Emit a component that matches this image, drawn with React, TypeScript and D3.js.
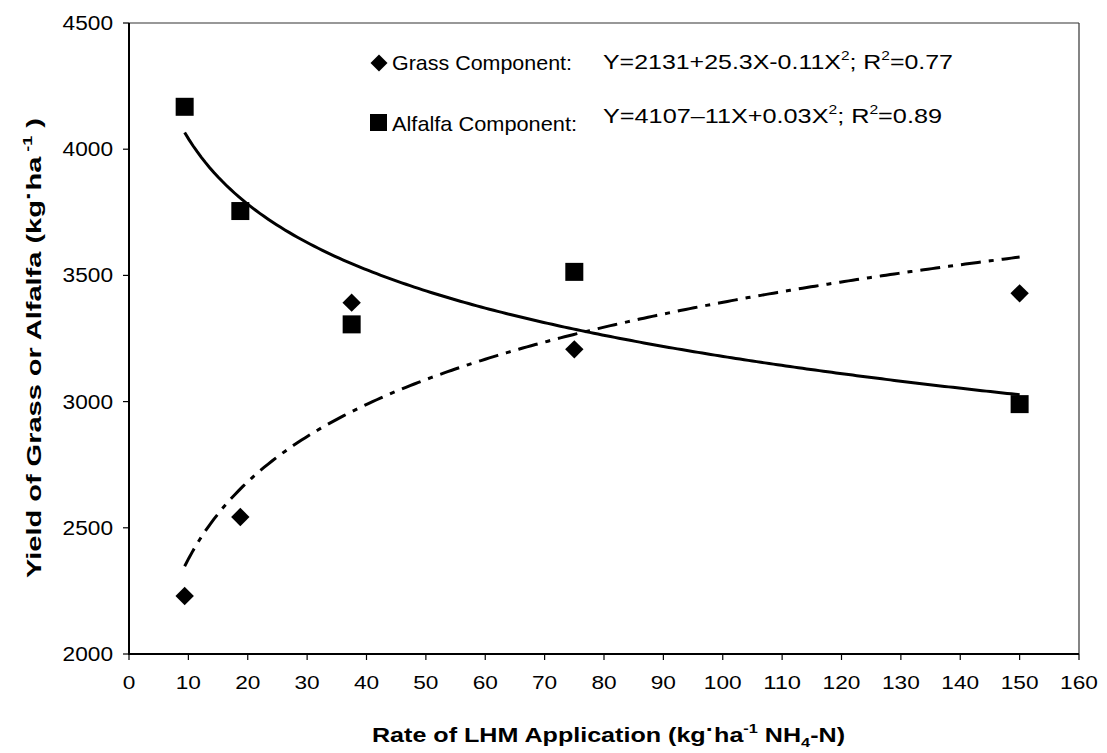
import React from "react";
import * as d3 from "d3";

const rates = [9.375, 18.75, 37.5, 75, 150];
const grassYield = [2230, 2543, 3392, 3207, 3429];
const alfalfaYield = [4168, 3755, 3306, 3514, 2990];
const xTicks = [0, 10, 20, 30, 40, 50, 60, 70, 80, 90, 100, 110, 120, 130, 140, 150, 160];
const yTicks = [2000, 2500, 3000, 3500, 4000, 4500];
const grassLabel = "Grass Component:";
const alfalfaLabel = "Alfalfa Component:";

const W = 1107;
const H = 753;
const L = 129, R = 1079, T = 23, B = 654;
const FONT = "'Liberation Sans', Arial, sans-serif";

function logFit(xs: number[], ys: number[]) {
  const lx = xs.map((v) => Math.log(v));
  const mx = d3.mean(lx)!;
  const my = d3.mean(ys)!;
  let sxy = 0, sxx = 0;
  lx.forEach((v, i) => {
    sxy += (v - mx) * (ys[i] - my);
    sxx += (v - mx) * (v - mx);
  });
  const b = sxy / sxx;
  const a = my - b * mx;
  return (x: number) => a + b * Math.log(x);
}

export default function App() {
  const x = d3.scaleLinear().domain([0, 160]).range([L, R]);
  const y = d3.scaleLinear().domain([2000, 4500]).range([B, T]);

  const x0 = d3.min(rates)!;
  const x1 = d3.max(rates)!;
  const samples = d3.range(0, 201).map((i) => x0 + ((x1 - x0) * i) / 200);
  const gFit = logFit(rates, grassYield);
  const aFit = logFit(rates, alfalfaYield);
  const line = d3
    .line<number[]>()
    .x((d) => x(d[0]))
    .y((d) => y(d[1]));
  const gPath = line(samples.map((s) => [s, gFit(s)])) || "";
  const aPath = line(samples.map((s) => [s, aFit(s)])) || "";

  const sq = 18;
  const dia = 13;
  const digitW = 12.6;

  return (
    <div style={{ position: "absolute", left: 0, top: 0 }}>
      <svg width={W} height={H} style={{ display: "block", background: "#fff" }} fontFamily={FONT}>
        {/* frame */}
        <line x1={L} x2={R} y1={T} y2={T} stroke="#333" strokeWidth={1.2} />
        <line x1={R} x2={R} y1={T} y2={B} stroke="#333" strokeWidth={1.2} />
        <line x1={L} x2={L} y1={T} y2={B + 1} stroke="#000" strokeWidth={2} />
        <line x1={L - 1} x2={R} y1={B} y2={B} stroke="#000" strokeWidth={2} />
        {/* y ticks */}
        {yTicks.map((t) => (
          <g key={"y" + t}>
            <line x1={L - 6} x2={L} y1={y(t)} y2={y(t)} stroke="#000" strokeWidth={1.2} />
            <text
              x={113}
              y={y(t) + 7}
              textAnchor="end"
              fontSize={20}
              fill="#000"
              textLength={String(t).length * digitW}
              lengthAdjust="spacingAndGlyphs"
            >
              {t}
            </text>
          </g>
        ))}
        {/* x ticks */}
        {xTicks.map((t) => (
          <g key={"x" + t}>
            <line x1={x(t)} x2={x(t)} y1={B} y2={B + 6} stroke="#000" strokeWidth={1.2} />
            <text
              x={x(t)}
              y={689}
              textAnchor="middle"
              fontSize={19}
              fill="#000"
              textLength={String(t).length * digitW}
              lengthAdjust="spacingAndGlyphs"
            >
              {t}
            </text>
          </g>
        ))}
        {/* trend lines */}
        <path d={aPath} fill="none" stroke="#000" strokeWidth={3} />
        <path d={gPath} fill="none" stroke="#000" strokeWidth={3} strokeDasharray="20,8,5,8" />
        {/* points */}
        {rates.map((r, i) => (
          <rect
            key={"a" + i}
            x={x(r) - sq / 2}
            y={y(alfalfaYield[i]) - sq / 2}
            width={sq}
            height={sq}
            fill="#000"
          />
        ))}
        {rates.map((r, i) => (
          <rect
            key={"g" + i}
            x={-dia / 2}
            y={-dia / 2}
            width={dia}
            height={dia}
            fill="#000"
            transform={`translate(${x(r)},${y(grassYield[i])}) rotate(45)`}
          />
        ))}
        {/* legend */}
        <rect x={-6} y={-6} width={12} height={12} fill="#000" transform="translate(379,63) rotate(45)" />
        <text x={392} y={70} fontSize={21} fill="#000" textLength={180} lengthAdjust="spacingAndGlyphs">
          {grassLabel}
        </text>
        <text x={603} y={69} fontSize={21} fill="#000" textLength={350} lengthAdjust="spacingAndGlyphs">
          Y=2131+25.3X-0.11X
          <tspan fontSize={13} dy={-9}>2</tspan>
          <tspan dy={9}>; R</tspan>
          <tspan fontSize={13} dy={-9}>2</tspan>
          <tspan dy={9}>=0.77</tspan>
        </text>
        <rect x={370} y={114} width={17} height={17} fill="#000" />
        <text x={392} y={131} fontSize={21} fill="#000" textLength={185} lengthAdjust="spacingAndGlyphs">
          {alfalfaLabel}
        </text>
        <text x={603} y={123} fontSize={21} fill="#000" textLength={339} lengthAdjust="spacingAndGlyphs">
          Y=4107–11X+0.03X
          <tspan fontSize={13} dy={-9}>2</tspan>
          <tspan dy={9}>; R</tspan>
          <tspan fontSize={13} dy={-9}>2</tspan>
          <tspan dy={9}>=0.89</tspan>
        </text>
        {/* axis titles */}
        <text
          x={372}
          y={742}
          fontSize={20}
          fontWeight="bold"
          fill="#000"
          textLength={473}
          lengthAdjust="spacingAndGlyphs"
        >
          Rate of LHM Application (kg
          <tspan dy={-6}>·</tspan>
          <tspan dy={6}>ha</tspan>
          <tspan fontSize={13} dy={-9}>-1</tspan>
          <tspan dy={9}> NH</tspan>
          <tspan fontSize={13} dy={5}>4</tspan>
          <tspan dy={-5}>-N)</tspan>
        </text>
        <text
          transform="translate(41,578) rotate(-90)"
          fontSize={21}
          fontWeight="bold"
          fill="#000"
          textLength={460}
          lengthAdjust="spacingAndGlyphs"
        >
          Yield of Grass or Alfalfa (kg
          <tspan dy={-6}>·</tspan>
          <tspan dy={6}>ha</tspan>
          <tspan fontSize={13} dy={-9}> -1</tspan>
          <tspan dy={9}> )</tspan>
        </text>
      </svg>
    </div>
  );
}
